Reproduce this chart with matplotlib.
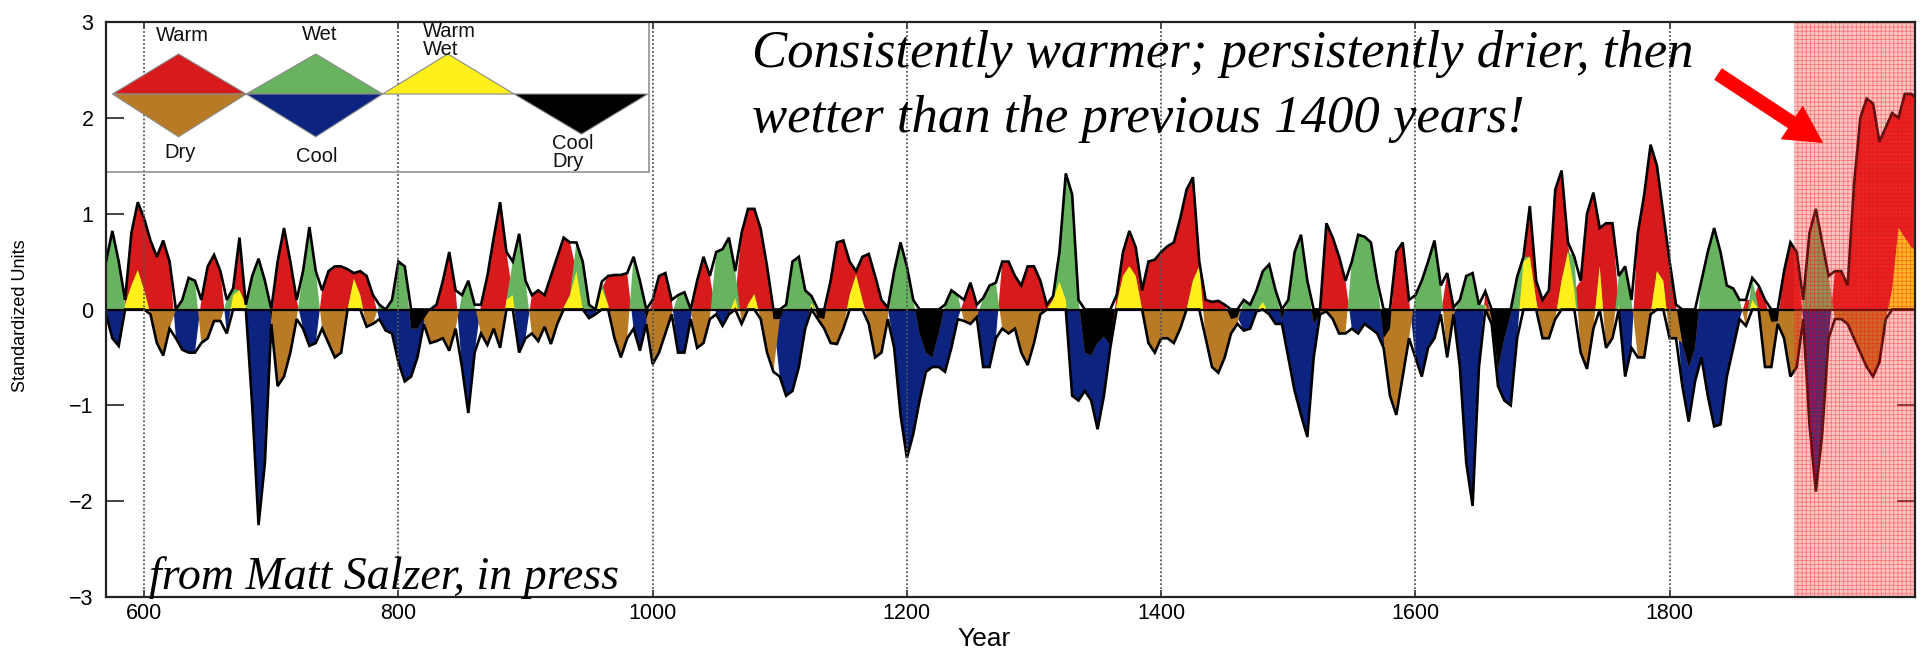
import numpy as np
import matplotlib
matplotlib.use("Agg")
import matplotlib.pyplot as plt
from matplotlib.patches import Polygon

plt.rcParams["font.family"] = ["Liberation Sans", "DejaVu Sans"]
plt.rcParams["hatch.linewidth"] = 0.5

# ---------------- data (standardized units, 5-year steps) ----------------
year_start, year_step = 570, 5
temperature = [
    -0.05, -0.3, -0.38, 0.1, 0.8, 1.12, 0.95, 0.72, 0.55, 0.72,      # 570-615
    0.5, -0.3, -0.42, -0.45, -0.45, 0.1, 0.45, 0.57, 0.4, -0.25,     # 620-665
    0.15, 0.75, 0.05, -1.0, -2.25, -1.6, -0.15, 0.5, 0.85, 0.5,      # 670-715
    0.1, -0.2, -0.38, -0.35, 0.2, 0.4, 0.45, 0.45, 0.42, 0.38,       # 720-765
    0.4, 0.35, 0.15, -0.1, -0.22, -0.25, -0.55, -0.75, -0.7, -0.5,   # 770-815
    -0.15, 0.0, 0.05, 0.3, 0.6, 0.2, -0.6, -1.08, -0.45, 0.05,       # 820-865
    0.35, 0.75, 1.12, 0.6, 0.15, -0.45, -0.3, 0.15, 0.2, 0.15,       # 870-915
    0.35, 0.55, 0.75, 0.7, 0.4, 0.0, -0.09, -0.05, 0.22, 0.35,       # 920-965
    0.36, 0.36, 0.38, -0.2, -0.43, -0.15, 0.1, 0.35, 0.38, 0.1,      # 970-1015
    -0.45, -0.45, -0.1, 0.3, 0.55, 0.35, -0.05, -0.17, -0.05, 0.12,  # 1020-1065
    0.8, 1.05, 1.05, 0.84, 0.45, -0.1, -0.7, -0.9, -0.85, -0.6,      # 1070-1115
    -0.2, 0.07, -0.08, -0.1, 0.3, 0.7, 0.72, 0.5, 0.4, 0.55,         # 1120-1165
    0.58, 0.35, 0.1, 0.02, -0.4, -1.1, -1.55, -1.3, -0.95, -0.65,    # 1170-1215
    -0.6, -0.6, -0.65, -0.4, -0.1, 0.1, 0.28, 0.05, -0.6, -0.6,      # 1220-1265
    -0.3, 0.5, 0.5, 0.35, 0.25, 0.45, 0.45, 0.3, 0.05, 0.14,         # 1270-1315
    0.29, 0.1, -0.9, -0.95, -0.85, -0.95, -1.25, -0.9, -0.4, 0.15,   # 1320-1365
    0.6, 0.82, 0.65, 0.2, 0.5, 0.52, 0.6, 0.66, 0.7, 0.95,           # 1370-1415
    1.25, 1.38, 0.5, 0.1, 0.08, 0.09, 0.05, -0.1, -0.08, -0.22,      # 1420-1465
    -0.2, -0.02, 0.08, -0.05, -0.15, -0.15, -0.5, -0.85, -1.1, -1.33,  # 1470-1515
    -0.5, -0.05, 0.9, 0.75, 0.55, 0.3, -0.2, -0.25, -0.15, -0.2,     # 1520-1565
    -0.25, -0.4, -0.2, 0.6, 0.7, 0.1, -0.5, -0.7, -0.4, -0.3,        # 1570-1615
    -0.05, 0.38, 0.02, -0.6, -1.6, -2.05, -0.6, 0.19, -0.1, -0.8,    # 1620-1665
    -0.95, -1.0, -0.3, 0.5, 1.08, 0.3, 0.1, 0.2, 1.25, 1.45,         # 1670-1715
    0.7, 0.2, 0.3, 1.0, 1.22, 0.85, 0.9, 0.9, 0.05, -0.7,            # 1720-1765
    -0.4, 0.8, 1.2, 1.72, 1.5, 1.0, 0.5, 0.05, -0.8, -1.17,          # 1770-1815
    -0.75, -0.5, -0.9, -1.22, -1.2, -0.7, -0.4, -0.1, 0.1, 0.1,      # 1820-1865
    0.25, 0.1, -0.13, -0.15, 0.4, 0.7, 0.6, -0.1, -1.2, -1.9,        # 1870-1915
    -1.3, -0.3, 0.4, 0.4, 0.25, 1.3, 2.0, 2.2, 2.15, 1.75,           # 1920-1965
    1.9, 2.05, 2.0, 2.25, 2.25, 2.2,                                 # 1970-1995
]
precipitation = [
    0.5, 0.82, 0.5, 0.05, 0.25, 0.41, 0.2, -0.05, -0.35, -0.48,      # 570-615
    -0.2, 0.0, 0.1, 0.33, 0.3, -0.35, -0.3, -0.12, -0.12, 0.1,       # 620-665
    0.22, 0.2, 0.05, 0.35, 0.53, 0.3, -0.1, -0.8, -0.7, -0.45,       # 670-715
    -0.1, 0.4, 0.86, 0.4, -0.2, -0.35, -0.5, -0.45, 0.0, 0.32,       # 720-765
    0.15, -0.18, -0.15, 0.05, -0.02, 0.1, 0.5, 0.45, -0.2, -0.2,     # 770-815
    -0.1, -0.35, -0.33, -0.3, -0.43, -0.2, 0.15, 0.3, 0.05, -0.25,   # 820-865
    -0.37, -0.2, -0.4, 0.1, 0.5, 0.79, 0.3, -0.25, -0.33, -0.18,     # 870-915
    -0.36, -0.15, 0.02, 0.15, 0.7, 0.5, 0.05, 0.0, 0.29, 0.05,       # 920-965
    -0.3, -0.5, -0.3, 0.55, 0.3, -0.1, -0.57, -0.45, -0.25, -0.05,   # 970-1015
    0.15, 0.18, 0.0, -0.4, -0.35, -0.1, 0.6, 0.63, 0.75, 0.4,        # 1020-1065
    -0.15, 0.05, 0.16, -0.1, -0.45, -0.65, -0.1, 0.05, 0.5, 0.55,    # 1070-1115
    0.2, 0.14, -0.1, -0.2, -0.35, -0.36, -0.2, 0.15, 0.36, 0.1,      # 1120-1165
    -0.15, -0.5, -0.45, -0.1, 0.4, 0.7, 0.45, 0.1, -0.25, -0.45,     # 1170-1215
    -0.5, -0.25, 0.05, 0.2, 0.15, -0.12, -0.15, -0.08, 0.12, 0.25,   # 1220-1265
    0.28, -0.2, -0.25, -0.2, -0.45, -0.58, -0.35, -0.05, 0.0, 0.1,   # 1270-1315
    0.6, 1.42, 1.2, 0.1, -0.45, -0.48, -0.35, -0.28, -0.38, 0.05,    # 1320-1365
    0.35, 0.45, 0.35, 0.0, -0.35, -0.45, -0.3, -0.3, -0.35, -0.2,    # 1370-1415
    0.0, 0.3, 0.45, -0.3, -0.6, -0.66, -0.5, -0.25, -0.15, 0.1,      # 1420-1465
    0.05, 0.2, 0.4, 0.47, 0.2, -0.1, 0.1, 0.6, 0.78, 0.3,            # 1470-1515
    -0.15, -0.05, -0.02, -0.1, -0.25, -0.25, 0.5, 0.78, 0.76, 0.7,   # 1520-1565
    0.3, -0.3, -0.9, -1.1, -0.7, -0.3, 0.15, 0.3, 0.5, 0.72,         # 1570-1615
    0.25, -0.5, -0.05, 0.1, 0.35, 0.38, 0.05, 0.05, -0.15, -0.62,    # 1620-1665
    -0.3, -0.05, 0.34, 0.55, 0.55, 0.1, -0.3, -0.3, -0.1, 0.3,       # 1670-1715
    0.6, 0.55, -0.45, -0.62, -0.2, 0.45, -0.4, -0.3, 0.35, 0.45,     # 1720-1765
    0.1, -0.5, -0.5, -0.05, 0.4, 0.3, -0.3, -0.3, -0.35, -0.6,       # 1770-1815
    -0.4, 0.3, 0.6, 0.85, 0.6, 0.25, 0.22, 0.1, -0.17, 0.33,         # 1820-1865
    0.0, -0.6, -0.6, -0.12, -0.3, -0.7, -0.6, 0.1, 0.8, 1.05,        # 1870-1915
    0.7, 0.35, -0.1, -0.1, -0.15, -0.3, -0.45, -0.6, -0.7, -0.55,    # 1920-1965
    -0.1, 0.2, 0.85, 0.75, 0.65, 0.6,                                # 1970-1995
]
years = [year_start + year_step * i for i in range(len(temperature))]

x_ticks = [600, 800, 1000, 1200, 1400, 1600, 1800]
y_ticks = [-3, -2, -1, 0, 1, 2, 3]
x_limits = (570, 1993)
y_limits = (-3, 3)
highlight_start = 1898

legend_labels = ["Warm", "Dry", "Wet", "Cool", "Warm\nWet", "Cool\nDry"]
title_lines = ["Consistently warmer; persistently drier, then",
               "wetter than the previous 1400 years!"]
credit_text = "from Matt Salzer, in press"

# ---------------- styles ----------------
RED = "#D71A1C"
GREEN = "#68B360"
YELLOW = "#FFF01C"
BROWN = "#B87A25"
BLUE = "#0C237F"
BLACK = "#000000"

W, H = 1923, 670
fig = plt.figure(figsize=(W / 100, H / 100), dpi=100)
ax_l, ax_r, ax_t, ax_b = 106, 1915, 22, 597
ax = fig.add_axes([ax_l / W, 1 - ax_b / H, (ax_r - ax_l) / W, (ax_b - ax_t) / H])

x = np.array(years, dtype=float)
T = np.array(temperature)
P = np.array(precipitation)

# positive side: warm (red), wet (green), overlap warm & wet (yellow)
ax.fill_between(x, 0, T, where=T > 0, interpolate=True, color=RED, lw=0, zorder=2)
ax.fill_between(x, 0, P, where=P > 0, interpolate=True, color=GREEN, lw=0, zorder=2.1)
both_pos = np.minimum(T, P)
ax.fill_between(x, 0, both_pos, where=both_pos > 0, interpolate=True, color=YELLOW, lw=0, zorder=2.2)
# negative side: cool (blue), dry (brown), overlap cool & dry (black)
ax.fill_between(x, 0, T, where=T < 0, interpolate=True, color=BLUE, lw=0, zorder=2)
ax.fill_between(x, 0, P, where=P < 0, interpolate=True, color=BROWN, lw=0, zorder=2.1)
both_neg = np.maximum(T, P)
ax.fill_between(x, 0, both_neg, where=both_neg < 0, interpolate=True, color=BLACK, lw=0, zorder=2.2)

upper = np.maximum(np.maximum(T, P), 0)
lower = np.minimum(np.minimum(T, P), 0)
ax.plot(x, upper, color="black", lw=1.9, zorder=3, solid_joinstyle="miter")
ax.plot(x, lower, color="black", lw=1.9, zorder=3, solid_joinstyle="miter")
ax.axhline(0, color="black", lw=1.6, zorder=3.1)

for xt in x_ticks:
    ax.axvline(xt, color="#555555", lw=1.3, ls=(0, (1, 1.2)), zorder=3.5)

# highlighted recent period
ax.axvspan(highlight_start, x_limits[1], facecolor=(1, 0.25, 0.25, 0.30),
           edgecolor=(1, 0, 0, 0.45), hatch="++++", lw=0, zorder=4)

ax.set_xlim(*x_limits)
ax.set_ylim(*y_limits)
ax.set_xticks(x_ticks)
ax.set_yticks(y_ticks)
ax.tick_params(axis="both", direction="in", top=True, right=True, labelsize=15.5,
               width=1.2, color="#222222")
ax.tick_params(axis="x", length=5, pad=4)
ax.tick_params(axis="y", length=13, pad=9)
for s in ax.spines.values():
    s.set_linewidth(1.6)
    s.set_color("#222222")
    s.set_zorder(6)

ax.set_xlabel("Year", fontsize=19)
ax.xaxis.set_label_coords(0.4855, -0.052)
ax.set_ylabel("Standardized Units", fontsize=13, va="center")
ax.yaxis.set_label_coords(-0.0475, 0.489)

# texts
ax.text(0.357, 0.9217, title_lines[0], transform=ax.transAxes, fontsize=38,
        family=["Liberation Serif"], style="italic", va="baseline", ha="left", zorder=7)
ax.text(0.357, 0.8087, title_lines[1], transform=ax.transAxes, fontsize=38,
        family=["Liberation Serif"], style="italic", va="baseline", ha="left", zorder=7)
ax.text(0.024, 0.0144, credit_text, transform=ax.transAxes, fontsize=33,
        family=["Liberation Serif"], style="italic", va="baseline", ha="left", zorder=7)

# red arrow
ax.annotate("", xy=(0.9492, 0.7896), xytext=(0.8911, 0.9096),
            xycoords="axes fraction", textcoords="axes fraction",
            arrowprops=dict(facecolor="red", edgecolor="none", width=10,
                            headwidth=29, headlength=27, shrink=0), zorder=8)

# legend box
lg = ax.inset_axes([0, 0.739, 0.3004, 0.261])
lg.set_xlim(0, 1)
lg.set_ylim(0, 1)
lg.set_xticks([])
lg.set_yticks([])
lg.patch.set_alpha(0)
for s in lg.spines.values():
    s.set_color("#9a9a9a")
    s.set_linewidth(1.3)
yb, ytop, ybot, yblk = 0.52, 0.787, 0.235, 0.253
xs = [0.012, 0.1335, 0.258, 0.386, 0.509, 0.629, 0.751, 0.875, 0.997]
tri = [
    ([(xs[0], yb), (xs[1], ytop), (xs[2], yb)], RED),
    ([(xs[0], yb), (xs[1], ybot), (xs[2], yb)], BROWN),
    ([(xs[2], yb), (xs[3], ytop), (xs[4], yb)], GREEN),
    ([(xs[2], yb), (xs[3], ybot), (xs[4], yb)], BLUE),
    ([(xs[4], yb), (xs[5], ytop), (xs[6], yb)], YELLOW),
    ([(xs[6], yb), (xs[7], yblk), (xs[8], yb)], BLACK),
]
for pts, c in tri:
    lg.add_patch(Polygon(pts, closed=True, facecolor=c, edgecolor="#8a8a8a", lw=0.8))
lab_kw = dict(fontsize=14.5, color="#111111", linespacing=0.9)
lg.text(0.14, 0.907, legend_labels[0], ha="center", va="center", **lab_kw)
lg.text(0.137, 0.129, legend_labels[1], ha="center", va="center", **lab_kw)
lg.text(0.394, 0.918, legend_labels[2], ha="center", va="center", **lab_kw)
lg.text(0.387, 0.102, legend_labels[3], ha="center", va="center", **lab_kw)
lg.text(0.584, 0.878, legend_labels[4], ha="left", va="center", **lab_kw)
lg.text(0.821, 0.131, legend_labels[5], ha="left", va="center", **lab_kw)

fig.savefig("out.png", dpi=100)
